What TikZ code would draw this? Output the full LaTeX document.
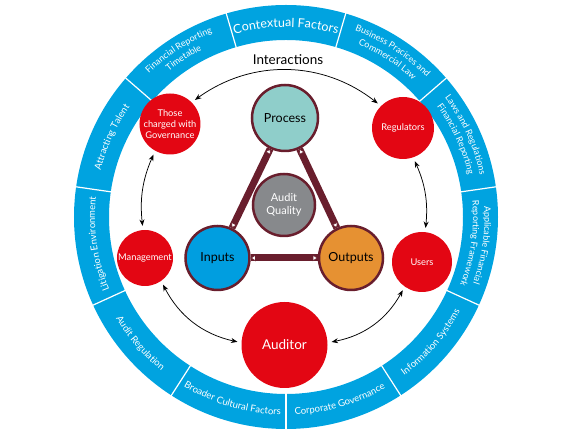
\documentclass[tikz,border=0pt]{standalone}
\usepackage{fontspec}
\setmainfont{Lato}
\usepackage{tikz}
\usetikzlibrary{arrows.meta,decorations.text}

\definecolor{ringblue}{RGB}{0,163,224}
\definecolor{redc}{RGB}{227,6,19}
\definecolor{procteal}{RGB}{143,206,202}
\definecolor{aqgray}{RGB}{135,137,140}
\definecolor{inblue}{RGB}{0,158,224}
\definecolor{outorange}{RGB}{230,145,50}
\definecolor{maroonc}{RGB}{105,30,45}

% ring labels: angle, baseline radius, font size, text
\newcommand{\cwlabel}[4]{\path[decorate, decoration={text along path, text align=center,
  text={|\fontsize{#3}{#3}\selectfont\color{white}|#4}}] (#1+25:#2) arc[start angle=#1+25, end angle=#1-25, radius=#2];}
\newcommand{\ccwlabel}[4]{\path[decorate, decoration={text along path, text align=center,
  text={|\fontsize{#3}{#3}\selectfont\color{white}|#4}}] (#1-25:#2) arc[start angle=#1-25, end angle=#1+25, radius=#2];}

\begin{document}
\begin{tikzpicture}[x=1pt, y=1pt,
    ball/.style={circle, draw=maroonc, line width=2.5pt, inner sep=0pt, align=center, font=\fontsize{12.5}{14}\selectfont},
    redball/.style={circle, fill=redc, text=white, inner sep=0pt, align=center, font=\fontsize{9.3}{11}\selectfont},
    bar/.style={maroonc, line width=7pt},
    bartips/.style={maroonc, line width=0.6pt, {Triangle[fill=white,length=5pt,width=6.5pt]}-{Triangle[fill=white,length=5pt,width=6.5pt]}},
    link/.style={black, line width=0.75pt, {Stealth[length=6.5pt,width=5pt]}-{Stealth[length=6.5pt,width=5pt]}, shorten <=4pt, shorten >=4pt}]
    \useasboundingbox (-286,-213) rectangle (284,217);

    % outer ring of contextual factors
    \fill[ringblue, even odd rule] (0,0) circle[radius=212] circle[radius=177];
    \foreach \a in {106.36,73.64,40.91,8.18,-24.55,-57.27,-90,-122.73,-155.45,-188.18,-220.91}
        \draw[white, line width=1.2pt] (\a:176) -- (\a:213);
    \cwlabel{90}{190}{12.5}{Contextual Factors}
    \cwlabel{57.27}{198.5}{9}{Business Pracices and}
    \cwlabel{57.27}{187}{9}{Commercial Law}
    \cwlabel{24.55}{198.5}{9}{Laws and Regulations}
    \cwlabel{24.55}{187}{9}{Financial Reporting}
    \cwlabel{-8.18}{198.5}{9}{Applicable Financial}
    \cwlabel{-8.18}{187}{9}{Reporting Framework}
    \ccwlabel{-40.91}{198}{9.5}{Information Systems}
    \ccwlabel{-73.64}{198}{9.5}{Corporate Governance}
    \ccwlabel{-106.36}{198}{9.5}{Broader Cultural Factors}
    \ccwlabel{-139.09}{198}{9.5}{Audit Regulation}
    \cwlabel{188.18}{191}{9.5}{Litigation Environment}
    \cwlabel{155.45}{191}{9.5}{Attracting Talent}
    \cwlabel{122.73}{198.5}{9}{Financial Reporting}
    \cwlabel{122.73}{187}{9}{Timetable}

    % audit quality triangle
    \node[ball, fill=procteal, minimum size=66pt] (pr) at (-1,99) {Process};
    \node[ball, fill=aqgray, text=white, minimum size=62pt, font=\fontsize{11}{13}\selectfont] (aq) at (-2,12) {Audit\\Quality};
    \node[ball, fill=inblue, minimum size=64pt] (inp) at (-68.5,-41) {Inputs};
    \node[ball, fill=outorange, minimum size=64pt] (outp) at (65,-41) {Outputs};
    \draw[bar] (pr) -- (inp);
    \draw[bar] (pr) -- (outp);
    \draw[bar] (inp) -- (outp);
    \draw[bartips] (pr) -- (inp);
    \draw[bartips] (pr) -- (outp);
    \draw[bartips] (inp) -- (outp);

    % stakeholders
    \node[redball, minimum size=61pt] (tcg) at (-116,93) {Those\\charged with\\Governance};
    \node[redball, minimum size=62pt] (reg) at (117,89) {Regulators};
    \node[redball, minimum size=56pt] (mgt) at (-141,-41) {Management};
    \node[redball, minimum size=60pt] (usr) at (136,-45) {Users};
    \node[redball, minimum size=86pt, font=\fontsize{13.5}{15}\selectfont] (aud) at (-1.5,-128) {Auditor};

    \node[font=\fontsize{13.5}{15}\selectfont] (lbl) at (2,157) {Interactions};
    \draw[link] (tcg.45) to[bend left=37] (reg.135);
    \draw[link] (tcg.241) to[bend right=15] (mgt.94);
    \draw[link] (reg.289) to[bend left=15] (usr.84);
    \draw[link] (mgt.305) to[bend right=25] (aud.177);
    \draw[link] (aud.3) to[bend right=25] (usr.235);
\end{tikzpicture}
\end{document}
